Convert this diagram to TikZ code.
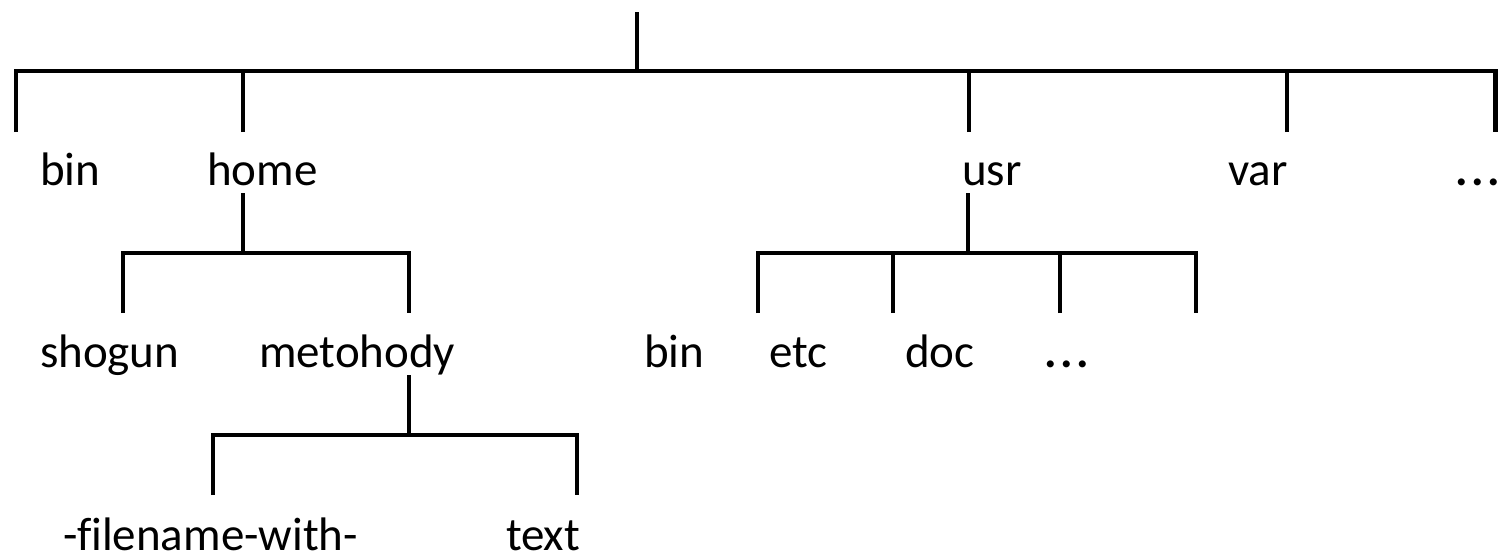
\documentclass[tikz,border=0pt]{standalone}
\usepackage{fontspec}
\setmainfont[Ligatures=NoCommon]{Carlito}
\newcommand{\mydots}{{\bfseries .\kern3.5pt.\kern3.5pt.}}
\begin{document}
\begin{tikzpicture}[x=1pt,y=-1pt,
  lbl/.style={anchor=base west,inner sep=0pt,outer sep=0pt,font=\fontsize{47}{56}\selectfont},
  branch/.style={line width=4.6pt,line join=miter,black}]
\useasboundingbox (0,0) rectangle (1498,552);
% labels
\node[lbl] (bin) at (40,185) {bin};
\node[lbl] (home) at (207,185) {home};
\node[lbl] (usr) at (962,185) {usr};
\node[lbl] (var) at (1228,185) {var};
\node[lbl] (more) at (1455,185) {\mydots};
\node[lbl] (shogun) at (40,367) {shogun};
\node[lbl] (metohody) at (259,367) {metohody};
\node[lbl] (ubin) at (644,367) {bin};
\node[lbl] (etc) at (769,367) {etc};
\node[lbl] (doc) at (905,367) {doc};
\node[lbl] (umore) at (1044,367) {\mydots};
\node[lbl] (fname) at (63,550) {-filename-with-};
\node[lbl] (text) at (506,550) {text};
% junctions
\coordinate (root) at (637,12);
\coordinate (rootJ) at (637,71);
\coordinate (dBin) at (16,132);
\coordinate (dHome) at (243,132);
\coordinate (dUsr) at (969,132);
\coordinate (dVar) at (1287,132);
\coordinate (dMore) at (1495.7,132);
\coordinate (homeTop) at (243,193);
\coordinate (homeJ) at (243,253);
\coordinate (dShogun) at (123,313);
\coordinate (dMet) at (409,313);
\coordinate (usrTop) at (968,193);
\coordinate (usrJ) at (968,253);
\coordinate (dUbin) at (758,313);
\coordinate (dEtc) at (893,313);
\coordinate (dDoc) at (1060,313);
\coordinate (dUmore) at (1196,313);
\coordinate (metTop) at (409,375);
\coordinate (metJ) at (409,435);
\coordinate (dFname) at (213,495);
\coordinate (dText) at (577,495);
% top level
\draw[branch] (root) -- (rootJ);
\draw[branch] (dBin) |- (rootJ) -| (dMore);
\draw[branch] (dHome) -- (dHome |- rootJ);
\draw[branch] (dUsr) -- (dUsr |- rootJ);
\draw[branch] (dVar) -- (dVar |- rootJ);
% home
\draw[branch] (homeTop) -- (homeJ);
\draw[branch] (dShogun) |- (homeJ) -| (dMet);
% usr
\draw[branch] (usrTop) -- (usrJ);
\draw[branch] (dUbin) |- (usrJ) -| (dUmore);
\draw[branch] (dEtc) -- (dEtc |- usrJ);
\draw[branch] (dDoc) -- (dDoc |- usrJ);
% metohody
\draw[branch] (metTop) -- (metJ);
\draw[branch] (dFname) |- (metJ) -| (dText);
\end{tikzpicture}
\end{document}
